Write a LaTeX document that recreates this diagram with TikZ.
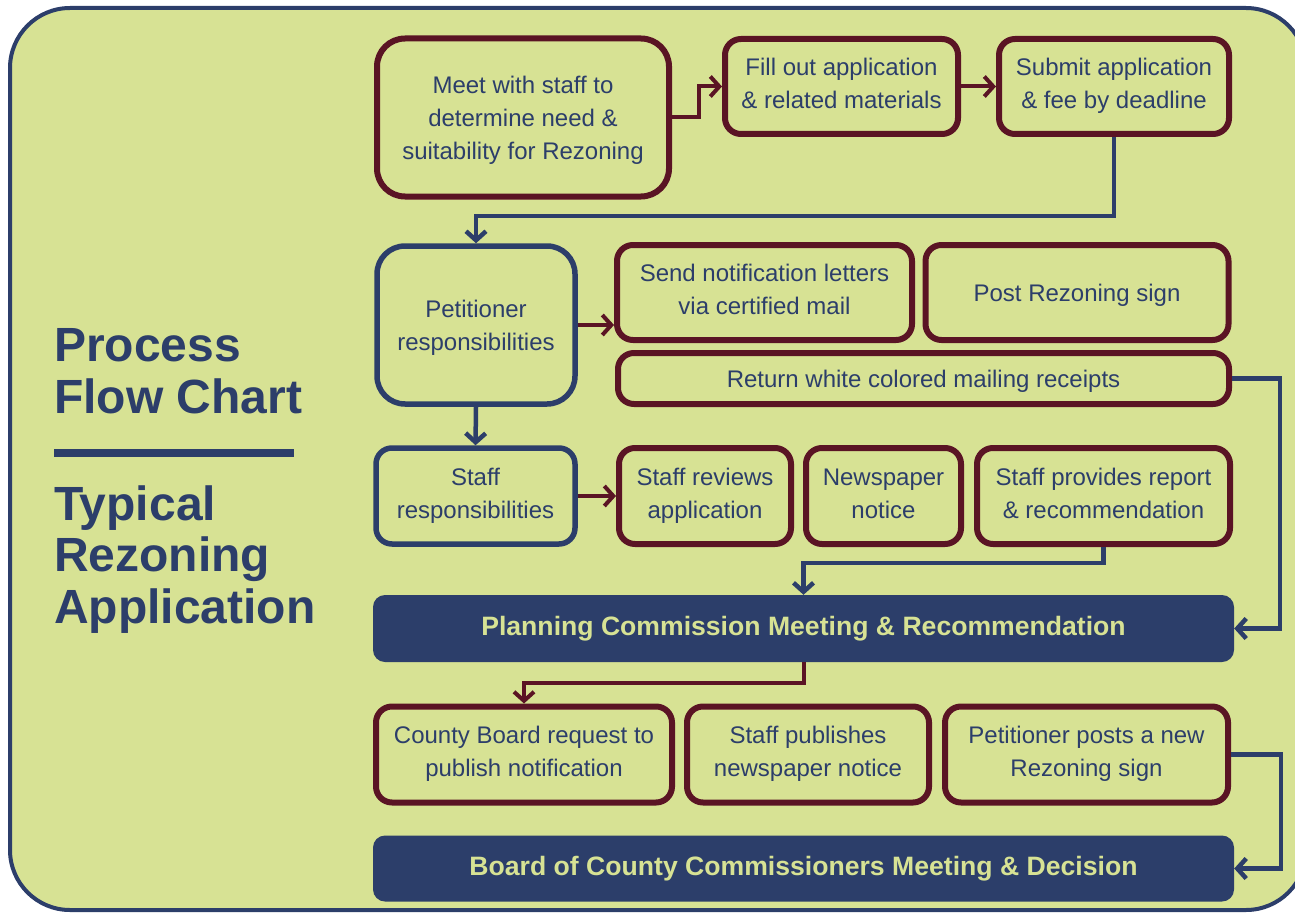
\documentclass[tikz,border=0pt]{standalone}
\usepackage{fontspec}
\setmainfont{Liberation Sans}
\usetikzlibrary{arrows.meta,calc}
\definecolor{bgc}{HTML}{D7E294}
\definecolor{navy}{HTML}{2C3E6A}
\definecolor{maroon}{HTML}{5A1424}
\def\trh{51pt}
\tikzset{
  box/.style={draw=maroon, line width=6, rounded corners=16, fill=bgc, text=navy,
    align=center, inner sep=0, font=\fontsize{24}{33}\selectfont,
    execute at begin node={\rule{0pt}{\trh}},
    execute at end node={\rule[-7pt]{0pt}{7pt}}},
  toprule/.style={/utils/exec={\def\trh{#1pt}}},
  bigr/.style={rounded corners=28},
  nbox/.style={box, draw=navy, line width=5.5},
  dark/.style={fill=navy, draw=none, rounded corners=12, text=bgc, inner sep=0,
    font=\fontsize{26.6}{30}\selectfont\bfseries},
  marr/.style={draw=maroon, line width=4, -{Straight Barb[length=9,width=20]}},
  narr/.style={draw=navy, line width=4.5, -{Straight Barb[length=9,width=20]}},
  ttl/.style={anchor=north west, inner sep=0, text=navy, align=left,
    font=\fontsize{48}{51.5}\selectfont\bfseries},
}
\begin{document}
\begin{tikzpicture}[x=1pt,y=-1pt]
\useasboundingbox (0,0) rectangle (1295,915);
\begin{scope}
\clip (0,0) rectangle (1295,915);
\draw[navy, line width=4, fill=bgc, rounded corners=60] (10,8) rectangle (1306,910);
\end{scope}

% title
\node[ttl] (t1) at (54,328.5) {Process\\Flow Chart};
\draw[navy, line width=8.5] (54,453) -- (294,453);
\node[ttl] (t2) at (54,485.5) {Typical\\Rezoning\\Application};

% row 1
\node[box, bigr, toprule=90.2, minimum width=292, minimum height=158] (meet) at (523,117.5)
  {Meet with staff to\\determine need \&\\suitability for Rezoning};
\node[box, minimum width=233, minimum height=95] (fill) at (841.5,86.5)
  {Fill out application\\\& related materials};
\node[box, minimum width=230, minimum height=95] (submit) at (1114,86.5)
  {Submit application\\\& fee by deadline};

% row 2
\node[nbox, bigr, toprule=57.2, minimum width=198, minimum height=158] (pet) at (476,325)
  {Petitioner\\responsibilities};
\node[box, minimum width=295, minimum height=95] (send) at (764.5,292.5)
  {Send notification letters\\via certified mail};
\node[box, toprule=24.2, minimum width=303, minimum height=95] (post) at (1077,292.5)
  {Post Rezoning sign};
\node[box, toprule=24.2, minimum width=611, minimum height=51] (ret) at (923.5,378.5)
  {Return white colored mailing receipts};

% row 3
\node[nbox, minimum width=199, minimum height=96] (staff) at (475.5,496)
  {Staff\\responsibilities};
\node[box, minimum width=172, minimum height=96] (rev) at (705,496)
  {Staff reviews\\application};
\node[box, minimum width=155, minimum height=96] (news) at (883.5,496)
  {Newspaper\\notice};
\node[box, minimum width=253, minimum height=96] (prov) at (1103.5,496)
  {Staff provides report\\\& recommendation};

% planning
\node[dark, minimum width=861, minimum height=67] (plan) at (803.5,628.5)
  {Planning Commission Meeting \& Recommendation};

% row 4
\node[box, minimum width=296, minimum height=96] (county) at (524,754.5)
  {County Board request to\\publish notification};
\node[box, minimum width=242, minimum height=96] (pub) at (808,754.5)
  {Staff publishes\\newspaper notice};
\node[box, minimum width=283, minimum height=96] (posts) at (1086.5,754.5)
  {Petitioner posts a new\\Rezoning sign};

% board
\node[dark, minimum width=861, minimum height=66] (board) at (803.5,868.5)
  {Board of County Commissioners Meeting \& Decision};

% connectors
\draw[marr] (meet.east) -- ++(27,0) |- (fill.west);
\draw[marr] (fill.east) -- (submit.west);
\draw[narr] (submit.south) -- ++(0,79) -| (pet.north);
\draw[marr] (pet.east) -- (pet.east -| send.west);
\draw[narr] (pet.south) -- (staff.north);
\draw[marr] (staff.east) -- (staff.east -| rev.west);
\draw[narr] (prov.south) -- ++(0,16) -| (plan.north);
\draw[narr] (ret.east) -- ++(48,0) |- (plan.east);
\draw[marr] (plan.south) -- ++(0,21) -| (county.north);
\draw[narr] (posts.east) -- ++(50,0) |- (board.east);
\end{tikzpicture}
\end{document}
